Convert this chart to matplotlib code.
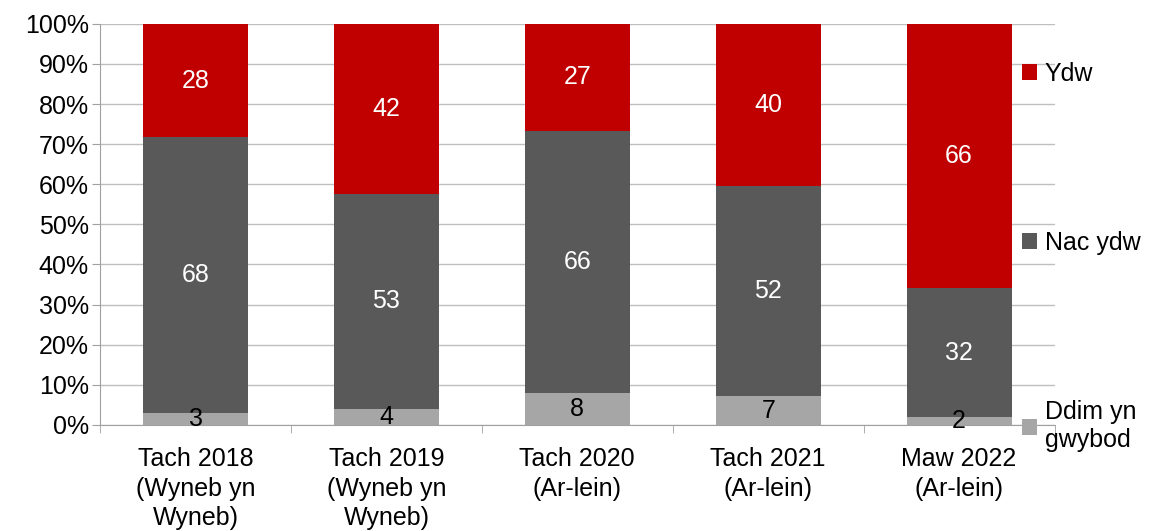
import numpy as np
import matplotlib.pyplot as plt

# data (percent of respondents)
categories = ["Tach 2018\n(Wyneb yn\nWyneb)", "Tach 2019\n(Wyneb yn\nWyneb)",
              "Tach 2020\n(Ar-lein)", "Tach 2021\n(Ar-lein)", "Maw 2022\n(Ar-lein)"]
dont_know = [3, 4, 8, 7, 2]
no = [68, 53, 66, 52, 32]
yes = [28, 42, 27, 40, 66]

series_names = ["Ddim yn\ngwybod", "Nac ydw", "Ydw"]
series_colors = ["#A6A6A6", "#595959", "#C00000"]
label_colors = ["black", "white", "white"]

plt.rcParams['font.family'] = ['Liberation Sans', 'DejaVu Sans']
fs = 18

fig = plt.figure(figsize=(11.5, 5.31), dpi=100)
ax = fig.add_axes([0.087, 0.2, 0.83, 0.755])

values = np.array([dont_know, no, yes], dtype=float)
totals = values.sum(axis=0)
shares = values / totals * 100  # 100% stacked

x = np.arange(len(categories))
bottom = np.zeros(len(categories))
bars = []
for i in range(len(series_names)):
    b = ax.bar(x, shares[i], 0.55, bottom=bottom, color=series_colors[i],
               label=series_names[i], zorder=3)
    bars.append(b)
    for j in range(len(categories)):
        ax.text(x[j], bottom[j] + shares[i][j] / 2, str(int(values[i][j])),
                ha='center', va='center', fontsize=fs, color=label_colors[i], zorder=4)
    bottom = bottom + shares[i]

ax.set_xlim(-0.5, len(categories) - 0.5)
ax.set_ylim(0, 100)
ax.set_yticks(np.arange(0, 101, 10))
ax.set_yticklabels(["%d%%" % v for v in range(0, 101, 10)], fontsize=fs)
ax.set_xticks(x)
ax.set_xticklabels(categories, fontsize=fs, linespacing=1.3)
ax.set_xticks(np.arange(-0.5, len(categories), 1), minor=True)
ax.tick_params(axis='x', which='major', length=0, pad=16)
ax.tick_params(axis='x', which='minor', length=6, color='#A0A0A0')
ax.tick_params(axis='y', length=6, color='#A0A0A0', pad=2)
ax.grid(axis='y', color='#BFBFBF', linewidth=1, zorder=0)

for s in ['top', 'right']:
    ax.spines[s].set_visible(False)
for s in ['left', 'bottom']:
    ax.spines[s].set_color('#A0A0A0')

handles = [bars[2], bars[1], bars[0]]
labels = [series_names[2], series_names[1], series_names[0]]
ax.legend(handles, labels, loc='upper left', bbox_to_anchor=(0.966, 0.905),
          frameon=False, fontsize=fs, borderaxespad=0, borderpad=0,
          handlelength=0.6, handleheight=0.6, handletextpad=0.3,
          labelspacing=5.8)

fig.savefig("out.png", dpi=100)
